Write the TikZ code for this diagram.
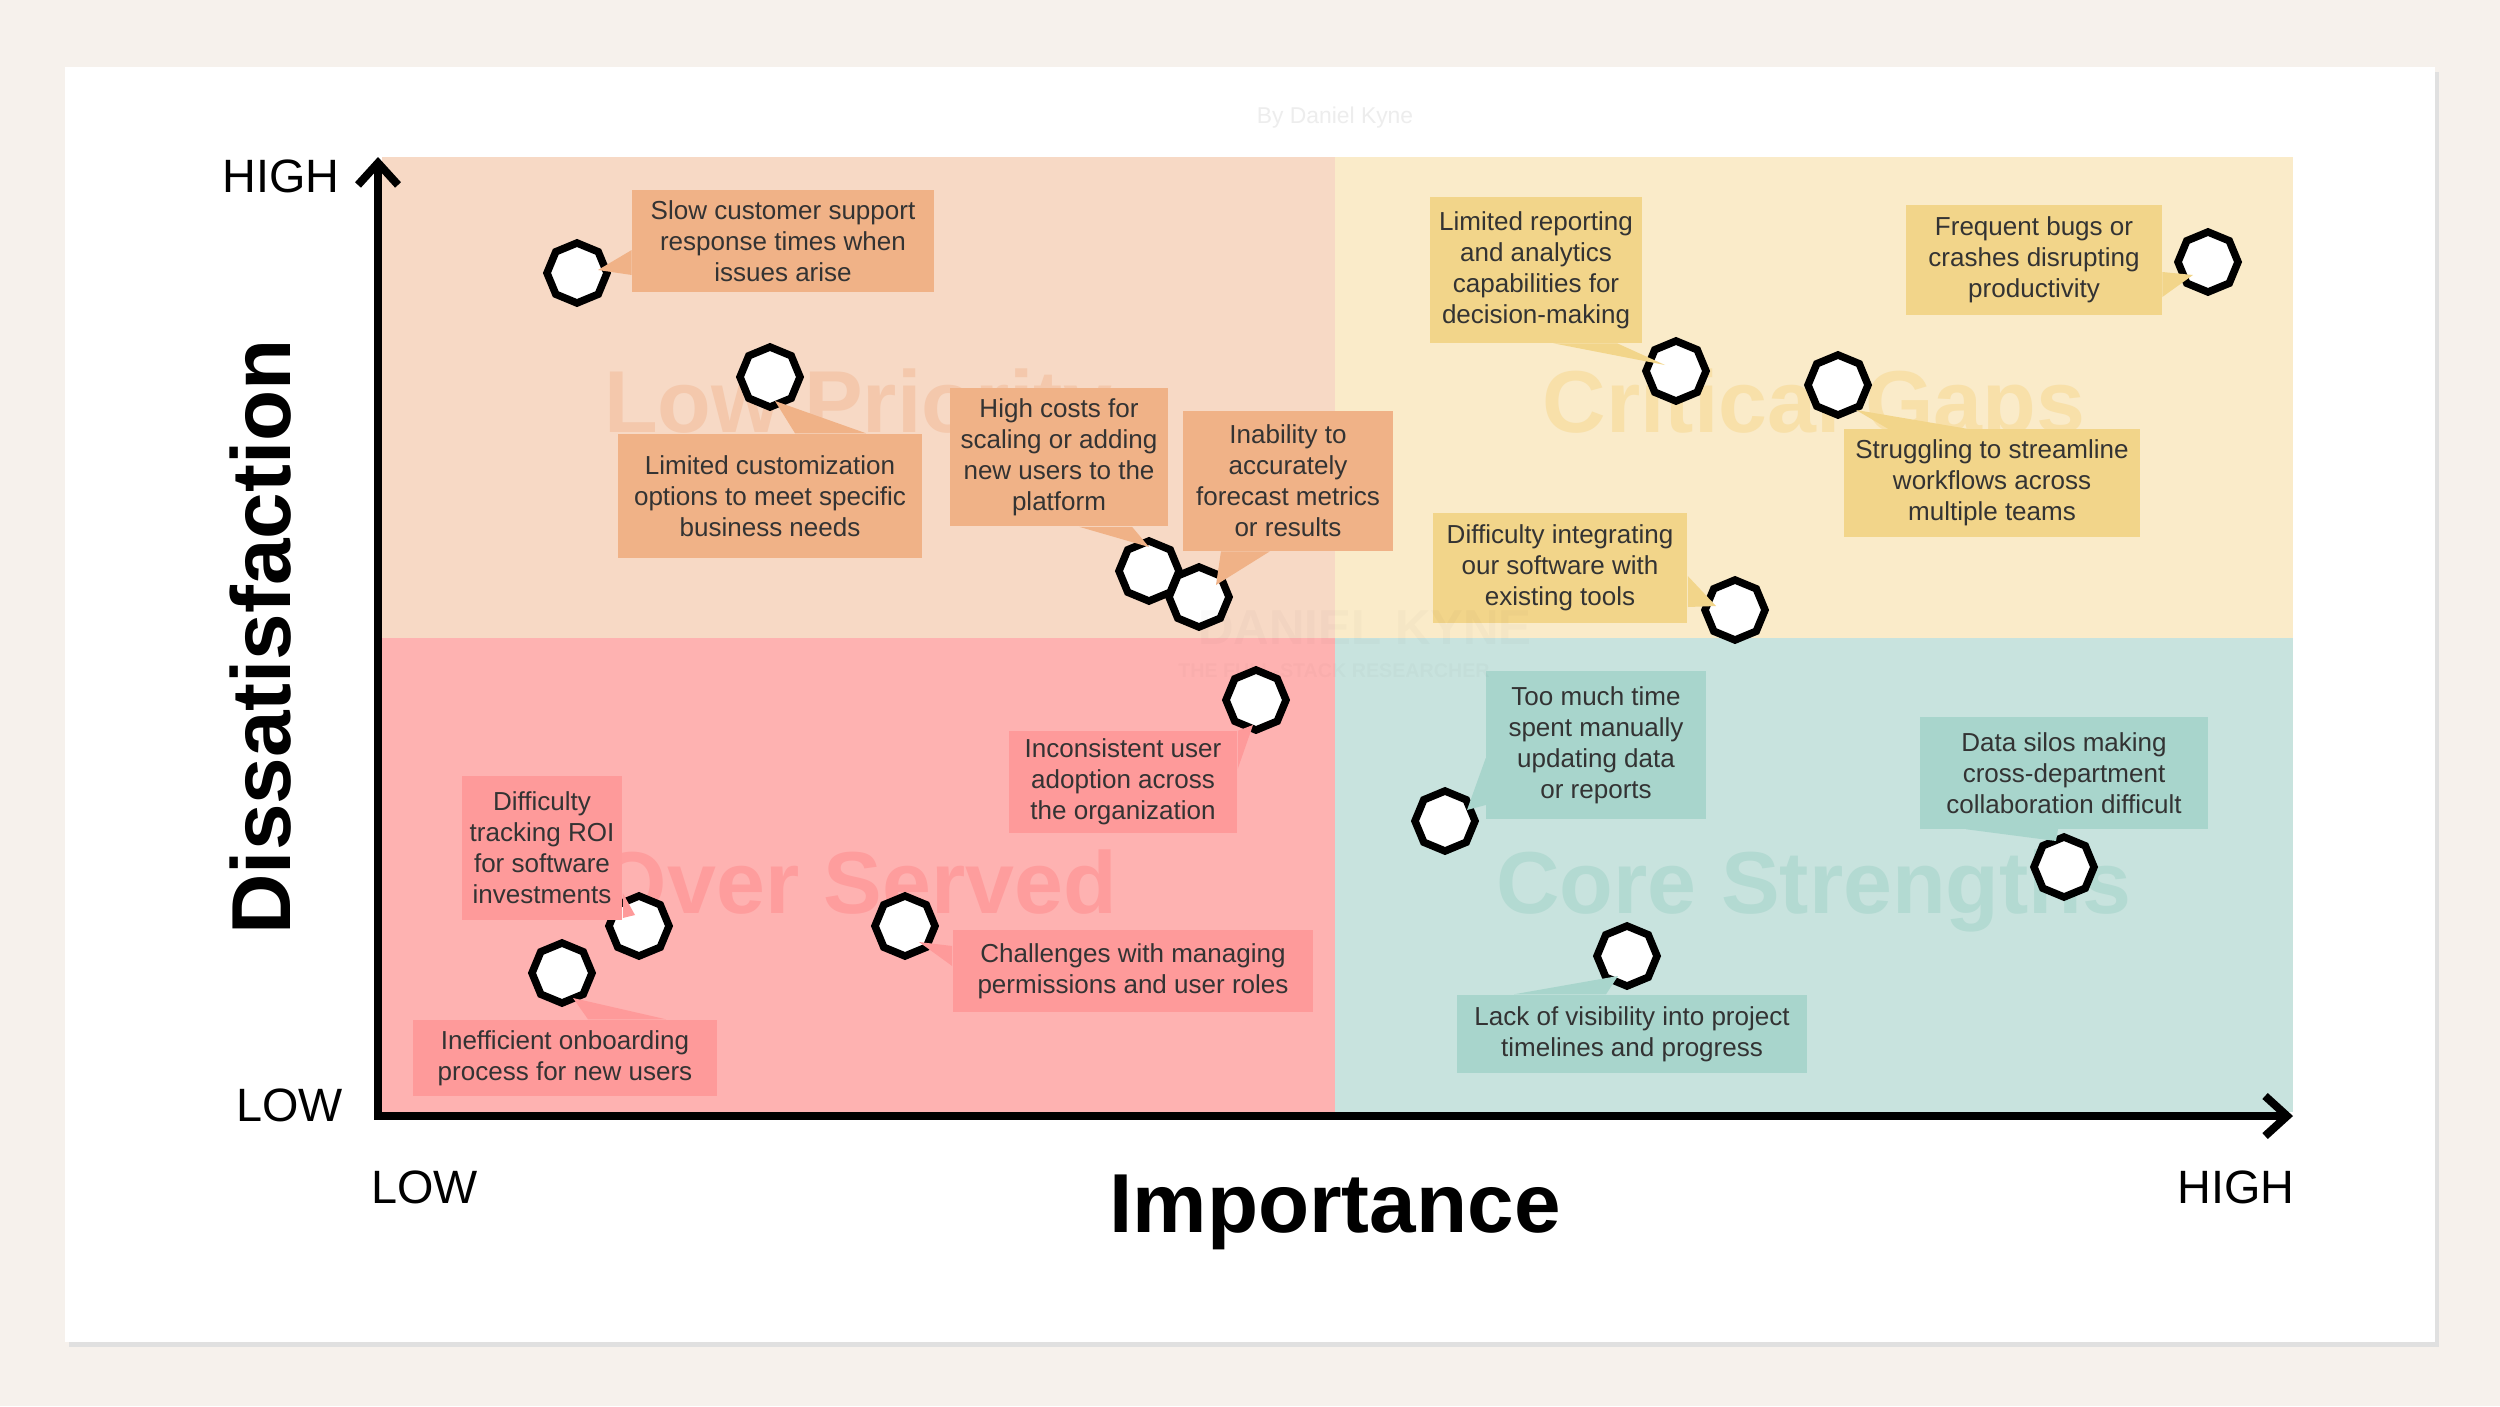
\documentclass[tikz,border=0pt]{standalone}
\usepackage{fontspec}
\setmainfont{Liberation Sans}
\usetikzlibrary{positioning}
\usetikzlibrary{calc,shapes.geometric,arrows.meta}

\definecolor{pagebg}{HTML}{F6F1EC}
\definecolor{lowbg}{HTML}{F7D9C5}
\definecolor{lowbox}{HTML}{F0B287}
\definecolor{lowtxt}{HTML}{F4C8AC}
\definecolor{critbg}{HTML}{FAEBC9}
\definecolor{critbox}{HTML}{F2D58A}
\definecolor{crittxt}{HTML}{F8E0A9}
\definecolor{overbg}{HTML}{FEB2B1}
\definecolor{overbox}{HTML}{FE9A9A}
\definecolor{overtxt}{HTML}{FE9D9D}
\definecolor{corebg}{HTML}{C8E3DE}
\definecolor{corebox}{HTML}{A8D5CC}
\definecolor{coretxt}{HTML}{B3DAD2}
\definecolor{ink}{HTML}{333333}

\begin{document}
\begin{tikzpicture}[
    x = 0.01cm, y = -0.01cm,
    dot/.style = {shape = regular polygon, regular polygon sides = 8, shape border rotate = 22.5, draw = black, fill = white, line width = 0.075cm, minimum size = 0.6cm, inner sep = 0cm},
    note/.style = {align = center, text = ink, inner sep = 0cm, font = \fontsize{7.4}{8.8}\selectfont},
    lowpri/.style = {note, fill = lowbox},
    critgap/.style = {note, fill = critbox},
    overserv/.style = {note, fill = overbox},
    corestr/.style = {note, fill = corebox},
    quad/.style = {anchor = base, font = \bfseries\fontsize{25}{25}\selectfont},
    axlab/.style = {font = \fontsize{13.3}{14}\selectfont},
    axtitle/.style = {anchor = base, font = \bfseries\fontsize{23.8}{24}\selectfont},
    ]
    \useasboundingbox (0,0) rectangle (2500,1406);
    % paper
    \fill[pagebg] (0,0) rectangle (2500,1406);
    \fill[black!12] (69,72) rectangle (2439,1347);
    \fill[white] (65,67) rectangle (2435,1342);
    \node[text = black!7, font = \fontsize{6.5}{7}\selectfont] (byline) at (1335,118) {By Daniel Kyne};

    % quadrants
    \fill[lowbg] (382,157) rectangle (1335,638);
    \fill[critbg] (1335,157) rectangle (2293,638);
    \fill[overbg] (382,638) rectangle (1335,1112);
    \fill[corebg] (1335,638) rectangle (2293,1112);
    \node[quad, text = lowtxt] (lowq) at (858,432) {Low Priority};
    \node[quad, text = crittxt] (critq) at (1814,432) {Critical Gaps};
    \node[quad, text = overtxt] (overq) at (858,913) {Over Served};
    \node[quad, text = coretxt] (coreq) at (1814,913) {Core Strengths};

    % axes
    \coordinate (ytop) at (378,157);
    \coordinate (origin) at (378,1116);
    \coordinate (xend) at (2293,1116);
    \draw[line width = 0.08cm, line join = miter, {Straight Barb[length = 0.22cm, width = 0.4cm]}-{Straight Barb[length = 0.22cm, width = 0.4cm]}] (ytop) -- (origin) -- (xend);
    \node[axlab, anchor = base east] (yhigh) at (352,192) {HIGH};
    \node[axlab, anchor = base east] (ylow) at (355,1121) {LOW};
    \node[axlab, anchor = base west] (xlow) at (359,1203) {LOW};
    \node[axlab, anchor = base east] (xhigh) at (2307,1203) {HIGH};
    \node[axtitle] (xtitle) at (1335,1232) {Importance};
    \node[axtitle, rotate = 90] (ytitle) at (290,637) {Dissatisfaction};

    % markers
    \node[dot] (m1) at (577,273) {};
    \node[dot] (m2) at (770,377) {};
    \node[dot] (m3) at (1149,571) {};
    \node[dot] (m4) at (1199,597) {};
    \node[dot] (m5) at (1676,371) {};
    \node[dot] (m6) at (2208,262) {};
    \node[dot] (m7) at (1838,385) {};
    \node[dot] (m8) at (1735,610) {};
    \node[dot] (m9) at (1256,700) {};
    \node[dot] (m10) at (639,926) {};
    \node[dot] (m11) at (562,973) {};
    \node[dot] (m12) at (905,926) {};
    \node[dot] (m13) at (1445,821) {};
    \node[dot] (m14) at (2064,867) {};
    \node[dot] (m15) at (1627,956) {};

    % notes
    \node[lowpri, minimum width = 3.01cm, minimum height = 1.02cm] (b1) at (783,241) {Slow customer support\\response times when\\issues arise};
    \node[lowpri, minimum width = 3.03cm, minimum height = 1.24cm] (b2) at (770,496) {Limited customization\\options to meet specific\\business needs};
    \node[lowpri, minimum width = 2.18cm, minimum height = 1.38cm] (b3) at (1059,457) {High costs for\\scaling or adding\\new users to the\\platform};
    \node[lowpri, minimum width = 2.10cm, minimum height = 1.39cm] (b4) at (1288,481) {Inability to\\accurately\\forecast metrics\\or results};
    \node[critgap, minimum width = 2.11cm, minimum height = 1.45cm] (b5) at (1536,270) {Limited reporting\\and analytics\\capabilities for\\decision-making};
    \node[critgap, minimum width = 2.55cm, minimum height = 1.10cm] (b6) at (2034,260) {Frequent bugs or\\crashes disrupting\\productivity};
    \node[critgap, minimum width = 2.96cm, minimum height = 1.07cm] (b7) at (1992,483) {Struggling to streamline\\workflows across\\multiple teams};
    \node[critgap, minimum width = 2.54cm, minimum height = 1.10cm] (b8) at (1560,568) {Difficulty integrating\\our software with\\existing tools};
    \node[overserv, minimum width = 2.28cm, minimum height = 1.01cm] (b9) at (1123,782) {Inconsistent user\\adoption across\\the organization};
    \node[overserv, minimum width = 1.60cm, minimum height = 1.43cm] (b10) at (542,848) {Difficulty\\tracking ROI\\for software\\investments};
    \node[overserv, minimum width = 3.04cm, minimum height = 0.76cm] (b11) at (565,1058) {Inefficient onboarding\\process for new users};
    \node[overserv, minimum width = 3.60cm, minimum height = 0.81cm] (b12) at (1133,971) {Challenges with managing\\permissions and user roles};
    \node[corestr, minimum width = 2.19cm, minimum height = 1.47cm] (b13) at (1596,745) {Too much time\\spent manually\\updating data\\or reports};
    \node[corestr, minimum width = 2.87cm, minimum height = 1.11cm] (b14) at (2064,773) {Data silos making\\cross-department\\collaboration difficult};
    \node[corestr, minimum width = 3.50cm, minimum height = 0.78cm] (b15) at (1632,1034) {Lack of visibility into project\\timelines and progress};

    % pointers
    \fill[lowbox] ($(b1.west)+(0,9)$) -- ($(m1)+(21,-3)$) -- ($(b1.west)+(0,34)$) -- cycle;
    \fill[lowbox] ($(b2.north)+(25,0)$) -- ($(m2)+(5,24)$) -- ($(b2.north)+(96,0)$) -- cycle;
    \fill[lowbox] ($(b3.south)+(20,0)$) -- ($(m3)+(0,-24)$) -- ($(b3.south)+(73,0)$) -- cycle;
    \fill[lowbox] ($(b4.south)+(-67,0)$) -- ($(m4)+(17,-12)$) -- ($(b4.south)+(-18,0)$) -- cycle;
    \fill[critbox] ($(b5.south)+(17,0)$) -- ($(m5)+(-11,-6)$) -- ($(b5.south)+(81,0)$) -- cycle;
    \fill[critbox] ($(b6.east)+(0,12)$) -- ($(m6)+(-15,13)$) -- ($(b6.east)+(0,37)$) -- cycle;
    \fill[critbox] ($(b7.north)+(-104,0)$) -- ($(m7)+(18,25)$) -- ($(b7.north)+(-25,0)$) -- cycle;
    \fill[critbox] ($(b8.east)+(0,8)$) -- ($(m8)+(-19,-4)$) -- ($(b8.east)+(0,39)$) -- cycle;
    \fill[overbox] (b9.north east) -- ($(m9)+(-3,25)$) -- ($(b9.north east)+(0,38)$) -- cycle;
    \fill[overbox] ($(b10.east)+(0,45)$) -- ($(m10)+(-4,-11)$) -- ($(b10.east)+(0,70)$) -- cycle;
    \fill[overbox] ($(b11.north)+(23,0)$) -- ($(m11)+(11,25)$) -- ($(b11.north)+(101,0)$) -- cycle;
    \fill[overbox] ($(b12.west)+(0,-25)$) -- ($(m12)+(14,16)$) -- ($(b12.west)+(0,-5)$) -- cycle;
    \fill[corebox] ($(b13.west)+(0,13)$) -- ($(m13)+(22,-11)$) -- ($(b13.west)+(0,60)$) -- cycle;
    \fill[corebox] ($(b14.south)+(-98,0)$) -- ($(m14)+(-8,-26)$) -- ($(b14.south)+(-6,0)$) -- cycle;
    \fill[corebox] ($(b15.north)+(-118,0)$) -- ($(m15)+(-9,20)$) -- ($(b15.north)+(-26,0)$) -- cycle;

    % watermark
    \node[text = black, opacity = 0.02, font = \bfseries\fontsize{14}{14}\selectfont] (wmname) at (1365,628) {DANIEL KYNE};
    \node[text = black, opacity = 0.02, font = \bfseries\fontsize{5.6}{6}\selectfont] (wmtag) at (1334,671) {THE FULL-STACK RESEARCHER};
\end{tikzpicture}
\end{document}
